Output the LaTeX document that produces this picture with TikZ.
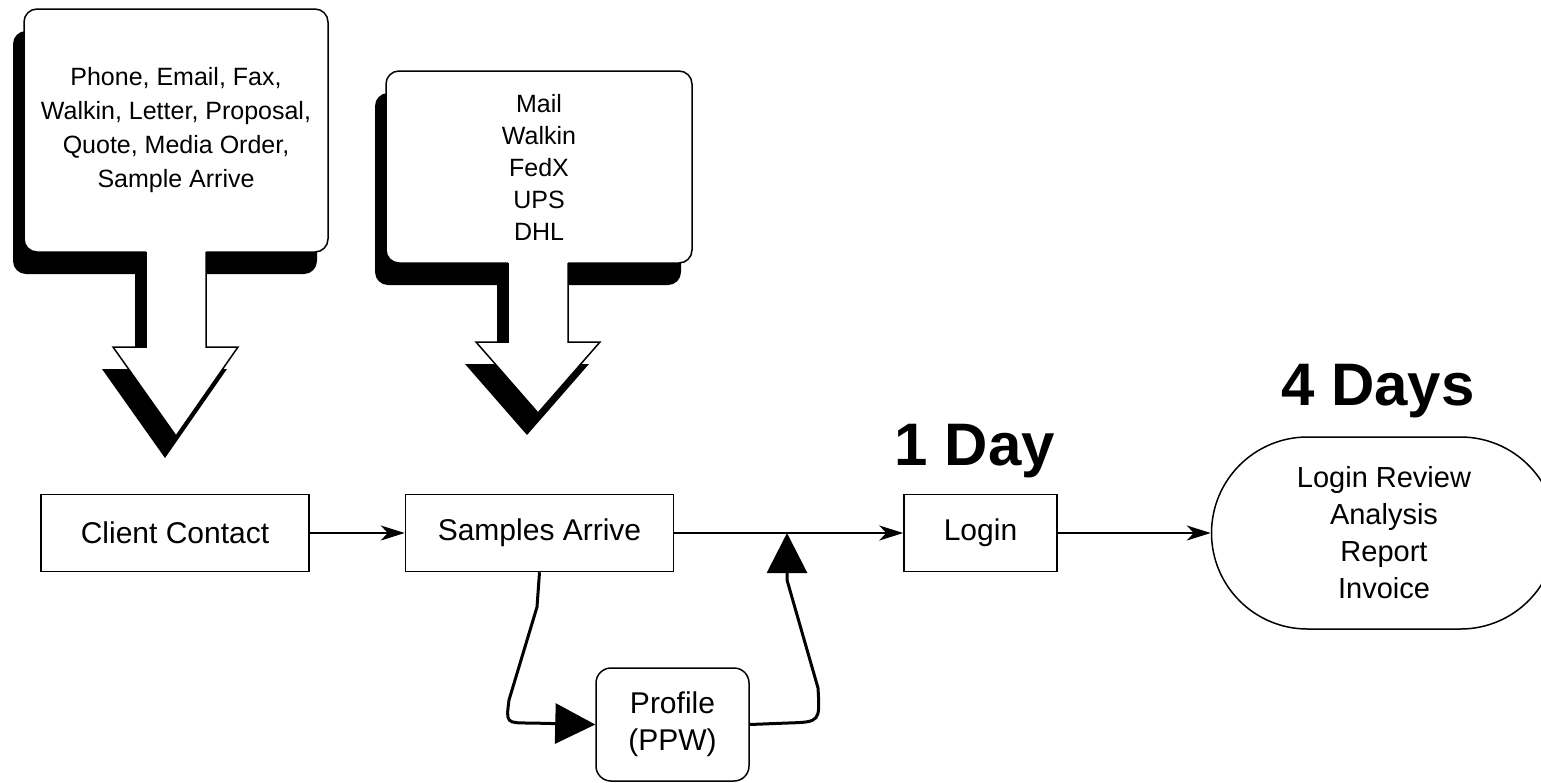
\documentclass[tikz,border=0pt]{standalone}
\usepackage{fontspec}
\setmainfont{Liberation Sans}
\usetikzlibrary{positioning, arrows.meta, shapes.misc}
\tikzset{
	every text node part/.style= {
		align=center
	},
	stage/.style= {
		rectangle,
		draw,
		line width=1.5pt,
		minimum height=77pt,
		inner sep=0pt,
		font=\fontsize{30}{37}\selectfont
	},
	result/.style= {
		rounded rectangle,
		draw,
		line width=1.5pt,
		minimum width=345pt,
		minimum height=192pt,
		inner sep=0pt,
		font=\fontsize{29}{37}\selectfont
	},
	calloutbox/.style= {
		rectangle,
		rounded corners=13pt,
		draw,
		fill=white,
		line width=1.5pt,
		inner sep=0pt,
		font=\fontsize{25}{34}\selectfont
	},
	shadowfill/.style= {
		fill=black,
		shift={(-11,22)}
	},
	flow/.style= {
		-{Stealth[length=24pt, width=15pt, inset=7pt]},
		line width=1.5pt
	},
	detour/.style= {
		-{Triangle[length=40pt, width=40pt]},
		line width=3pt
	},
	days/.style= {
		inner sep=0pt,
		font=\bfseries\fontsize{60}{72}\selectfont
	}
}

\begin{document}
\begin{tikzpicture}[x=1pt, y=-1pt]
	\useasboundingbox (0,0) rectangle (1541,782);
	
	% shadows of the call-outs
	\fill[shadowfill, rounded corners=13pt] (24,9) rectangle (328,252);
	\fill[shadowfill] (146,250) -- (146,347) -- (113,347) -- (176,436) -- (238,347) -- (206,347) -- (206,250) -- cycle;
	\fill[shadowfill, rounded corners=13pt] (386,71) rectangle (692,263);
	\fill[shadowfill] (508,261) -- (508,342) -- (476,342) -- (538,413) -- (600,342) -- (568,342) -- (568,261) -- cycle;
	
	\node (channels)[calloutbox, minimum width=304pt, minimum height=243pt] at (176,130.5) {Phone, Email, Fax,\\Walkin, Letter, Proposal,\\Quote, Media Order,\\Sample Arrive};
	\node (carriers)[calloutbox, minimum width=306pt, minimum height=192pt, font=\fontsize{25}{32}\selectfont] at (539,167) {Mail\\Walkin\\FedX\\UPS\\DHL};
	
	% open arrows under the call-outs
	\fill[white] (146,250) -- (146,347) -- (113,347) -- (176,436) -- (238,347) -- (206,347) -- (206,250) -- cycle;
	\draw[line width=1.5pt] (146,252) -- (146,347) -- (113,347) -- (176,436) -- (238,347) -- (206,347) -- (206,252);
	\fill[white] (508,261) -- (508,342) -- (476,342) -- (538,413) -- (600,342) -- (568,342) -- (568,261) -- cycle;
	\draw[line width=1.5pt] (508,263) -- (508,342) -- (476,342) -- (538,413) -- (600,342) -- (568,342) -- (568,263);
	
	\node (contact)[stage, minimum width=268pt] at (175,533) {Client Contact};
	\node (arrive)[stage, minimum width=268pt, right=95pt of contact] {Samples Arrive};
	\node (login)[stage, minimum width=153pt, right=229pt of arrive] {Login};
	\node (review)[result, right=153pt of login] {Login Review\\Analysis\\Report\\Invoice};
	\node (profile)[stage, rounded corners=15pt, minimum width=153pt, minimum height=113pt, below=95pt of arrive, xshift=133pt] {Profile\\(PPW)};
	
	\node (oneday)[days, anchor=base] at (975,465) {1 Day};
	\node (fourdays)[days, anchor=base] at (1378,405) {4 Days};
	
	\draw[flow](contact) to (arrive);
	\draw[flow](arrive) to (login);
	\draw[flow](login) to (review);
	
	\coordinate (merge) at (787,533);
	\draw[detour](arrive.south) -- (537,607) -- (509,700) .. controls (506,723) .. (530,723) -- (profile.west);
	\draw[detour](profile.east) -- (788,723) .. controls (820,722) .. (818,688) -- (787,580) -- (merge);
	
\end{tikzpicture}
\end{document}
